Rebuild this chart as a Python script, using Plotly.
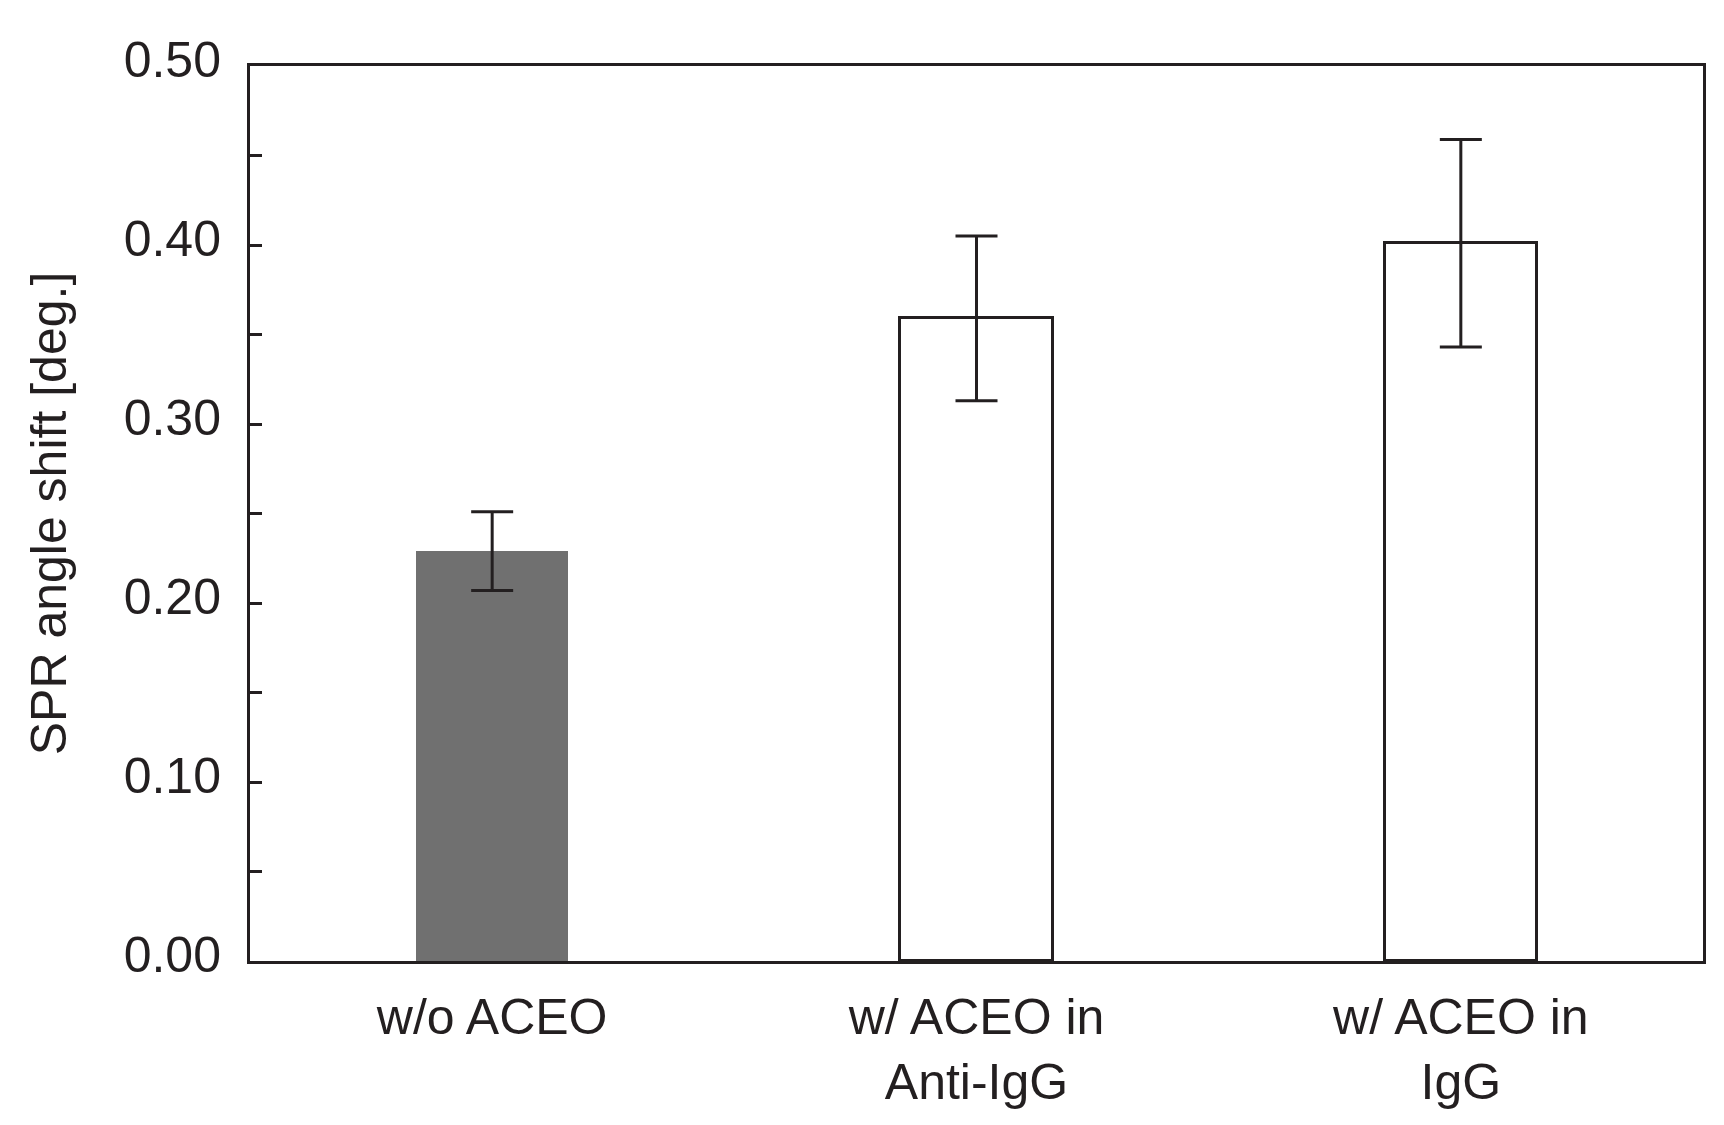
import plotly.graph_objects as go

categories = ["w/o ACEO", "w/ ACEO in<br>Anti-IgG", "w/ ACEO in<br>IgG"]
values = [0.229, 0.359, 0.401]
errors = [0.022, 0.046, 0.058]
fill_colors = ["#707070", "#ffffff", "#ffffff"]
outline_colors = ["#707070", "#231f20", "#231f20"]
outline_widths = [0, 3, 3]
y_tick_vals = [0.0, 0.1, 0.2, 0.3, 0.4, 0.5]
y_tick_text = ["0.00", "0.10", "0.20", "0.30", "0.40", "0.50"]

ink = "#231f20"
font_family = "Liberation Sans, Arial, sans-serif"

fig = go.Figure()
fig.add_trace(go.Bar(
    x=categories,
    y=values,
    width=0.314,
    marker=dict(color=fill_colors, line=dict(color=outline_colors, width=outline_widths)),
    error_y=dict(type="data", array=errors, visible=True, color=ink, thickness=3, width=21),
    showlegend=False,
))

fig.update_layout(
    width=1724,
    height=1125,
    margin=dict(l=242, r=29, t=58, b=172),
    paper_bgcolor="white",
    plot_bgcolor="white",
    font=dict(family=font_family, size=50, color=ink),
    bargap=0,
)

fig.update_xaxes(
    range=[-0.5, 2.5],
    showline=True, linecolor=ink, linewidth=3, mirror=True,
    ticks="", showgrid=False, zeroline=False,
    tickfont=dict(size=50, color=ink),
    ticklabelstandoff=10,
)

fig.update_yaxes(
    range=[0, 0.5],
    tickvals=y_tick_vals, ticktext=y_tick_text,
    ticks="inside", ticklen=12, tickwidth=3, tickcolor=ink,
    minor=dict(dtick=0.05, tick0=0.05, ticks="inside", ticklen=12, tickwidth=3, tickcolor=ink, showgrid=False),
    showline=True, linecolor=ink, linewidth=3, mirror=True,
    showgrid=False, zeroline=False,
    tickfont=dict(size=50, color=ink),
    ticklabelstandoff=16,
    ticklabelshift=-7,
    title=dict(text="SPR angle shift [deg.]", font=dict(size=50, color=ink), standoff=42),
)

fig.write_html("out.html")
